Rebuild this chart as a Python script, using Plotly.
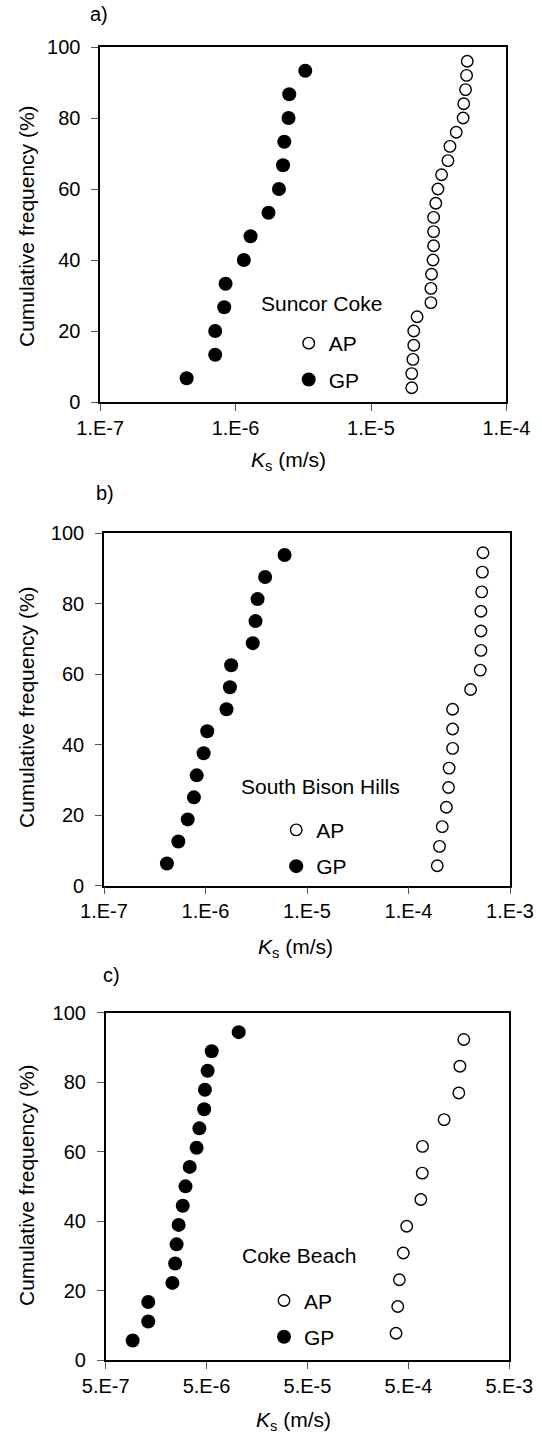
import math
import plotly.graph_objects as go

# ---------------- data ----------------
# a) Suncor Coke
suncor_gp_ks = [4.35e-7, 7.07e-7, 7.07e-7, 8.24e-7, 8.43e-7, 1.15e-6, 1.29e-6,
                1.75e-6, 2.09e-6, 2.24e-6, 2.29e-6, 2.46e-6, 2.49e-6, 3.27e-6]
suncor_gp_freq = [6.7, 13.3, 20.0, 26.7, 33.3, 40.0, 46.7, 53.3, 60.0, 66.7, 73.3, 80.0, 86.7, 93.3]
suncor_ap_ks = [2.00e-5, 2.00e-5, 2.04e-5, 2.07e-5, 2.07e-5, 2.19e-5, 2.77e-5, 2.77e-5,
                2.80e-5, 2.87e-5, 2.90e-5, 2.90e-5, 2.90e-5, 3.01e-5, 3.12e-5, 3.32e-5,
                3.70e-5, 3.83e-5, 4.26e-5, 4.79e-5, 4.84e-5, 4.99e-5, 5.08e-5, 5.14e-5]
suncor_ap_freq = [4, 8, 12, 16, 20, 24, 28, 32, 36, 40, 44, 48, 52, 56, 60, 64,
                  68, 72, 76, 80, 84, 88, 92, 96]

# b) South Bison Hills
bison_gp_ks = [4.17e-7, 5.40e-7, 6.68e-7, 7.69e-7, 8.19e-7, 9.58e-7, 1.04e-6, 1.61e-6,
               1.74e-6, 1.79e-6, 2.92e-6, 3.11e-6, 3.26e-6, 3.87e-6, 6.01e-6]
bison_gp_freq = [6.25, 12.5, 18.75, 25.0, 31.25, 37.5, 43.75, 50.0, 56.25, 62.5,
                 68.75, 75.0, 81.25, 87.5, 93.75]
bison_ap_ks = [1.92e-4, 2.02e-4, 2.15e-4, 2.36e-4, 2.48e-4, 2.51e-4, 2.72e-4, 2.72e-4,
               2.72e-4, 4.09e-4, 5.09e-4, 5.17e-4, 5.17e-4, 5.17e-4, 5.26e-4, 5.34e-4, 5.42e-4]
bison_ap_freq = [5.6, 11.1, 16.7, 22.2, 27.8, 33.3, 38.9, 44.4, 50.0, 55.6, 61.1,
                 66.7, 72.2, 77.8, 83.3, 88.9, 94.4]

# c) Coke Beach
beach_gp_ks = [9.25e-7, 1.32e-6, 1.32e-6, 2.29e-6, 2.44e-6, 2.52e-6, 2.64e-6, 2.90e-6,
               3.09e-6, 3.40e-6, 3.98e-6, 4.24e-6, 4.73e-6, 4.81e-6, 5.12e-6, 5.62e-6, 1.04e-5]
beach_gp_freq = [5.6, 11.1, 16.7, 22.2, 27.8, 33.3, 38.9, 44.4, 50.0, 55.6, 61.1,
                 66.7, 72.2, 77.8, 83.3, 88.9, 94.4]
beach_ap_ks = [3.77e-4, 3.92e-4, 4.07e-4, 4.45e-4, 4.81e-4, 6.64e-4, 6.86e-4, 6.90e-4,
               1.13e-3, 1.58e-3, 1.62e-3, 1.77e-3]
beach_ap_freq = [7.7, 15.4, 23.1, 30.8, 38.5, 46.2, 53.8, 61.5, 69.2, 76.9, 84.6, 92.3]

# tick labels
ticks_a = [1e-7, 1e-6, 1e-5, 1e-4]
ticktext_a = ["1.E-7", "1.E-6", "1.E-5", "1.E-4"]
ticks_b = [1e-7, 1e-6, 1e-5, 1e-4, 1e-3]
ticktext_b = ["1.E-7", "1.E-6", "1.E-5", "1.E-4", "1.E-3"]
ticks_c = [5e-7, 5e-6, 5e-5, 5e-4, 5e-3]
ticktext_c = ["5.E-7", "5.E-6", "5.E-5", "5.E-4", "5.E-3"]
freq_ticks = [0, 20, 40, 60, 80, 100]

site_names = ["Suncor Coke", "South Bison Hills", "Coke Beach"]
panel_labels = ["a)", "b)", "c)"]

# ---------------- layout helpers ----------------
W, H = 542, 1437
FONT = "Liberation Sans, Arial, Helvetica, sans-serif"


def px(x):
    return x / W


def py(y):
    return 1 - y / H


panels = [
    dict(ap=(suncor_ap_ks, suncor_ap_freq), gp=(suncor_gp_ks, suncor_gp_freq),
         tv=ticks_a, tt=ticktext_a, xd=(100.2, 506.4), yd=(47, 402),
         label=(98.5, 13.5), site=(321.5, 304), xtitle=(288, 461),
         ytitle_y=226, leg=(308.7, 340)),
    dict(ap=(bison_ap_ks, bison_ap_freq), gp=(bison_gp_ks, bison_gp_freq),
         tv=ticks_b, tt=ticktext_b, xd=(104, 510), yd=(533, 885.5),
         label=(104.6, 493), site=(320.8, 786.7), xtitle=(295.5, 948),
         ytitle_y=707, leg=(296.2, 826.7)),
    dict(ap=(beach_ap_ks, beach_ap_freq), gp=(beach_gp_ks, beach_gp_freq),
         tv=ticks_c, tt=ticktext_c, xd=(105.7, 509.3), yd=(1012.7, 1360),
         label=(111, 975), site=(299, 1255), xtitle=(293.8, 1421),
         ytitle_y=1185, leg=(284, 1297.3)),
]

fig = go.Figure()
layout = dict(
    width=W, height=H,
    margin=dict(l=0, r=0, t=0, b=0, pad=0, autoexpand=False),
    paper_bgcolor="white", plot_bgcolor="white",
    font=dict(family=FONT, size=20, color="black"),
    showlegend=True,
    annotations=[],
)

for i, p in enumerate(panels, start=1):
    sfx = "" if i == 1 else str(i)
    xref, yref = "x" + sfx, "y" + sfx
    legname = "legend" + sfx
    ap_ks, ap_f = p["ap"]
    gp_ks, gp_f = p["gp"]
    fig.add_trace(go.Scatter(
        x=ap_ks, y=ap_f, mode="markers", name="AP",
        xaxis=xref, yaxis=yref, legend=legname, legendgroup=f"ap{i}",
        marker=dict(symbol="circle", size=11.5, color="white",
                    line=dict(color="black", width=1.4)),
        cliponaxis=False,
    ))
    fig.add_trace(go.Scatter(
        x=gp_ks, y=gp_f, mode="markers", name="GP",
        xaxis=xref, yaxis=yref, legend=legname, legendgroup=f"gp{i}",
        marker=dict(symbol="circle", size=14, color="black",
                    line=dict(color="black", width=0)),
        cliponaxis=False,
    ))

    xr = [math.log10(p["tv"][0]), math.log10(p["tv"][-1])]
    layout["xaxis" + sfx] = dict(
        domain=[px(p["xd"][0]), px(p["xd"][1])], anchor=yref, type="log", range=xr,
        tickmode="array", tickvals=p["tv"], ticktext=p["tt"],
        ticks="outside", ticklen=7, tickwidth=1, tickcolor="#555",
        showline=True, linecolor="black", linewidth=1.6, mirror=True,
        showgrid=False, zeroline=False, automargin=False,
        tickfont=dict(size=20, family=FONT),
    )
    layout["yaxis" + sfx] = dict(
        domain=[py(p["yd"][1]), py(p["yd"][0])], anchor=xref, range=[0, 100],
        tickmode="array", tickvals=freq_ticks,
        ticks="outside", ticklen=7, tickwidth=1, tickcolor="#555",
        ticklabelstandoff=7,
        showline=True, linecolor="black", linewidth=1.6, mirror=True,
        showgrid=False, zeroline=False, automargin=False,
        tickfont=dict(size=20, family=FONT),
    )
    # overlay axis drawing the inner half of the crossing x ticks
    layout["xaxis" + str(i + 3)] = dict(
        domain=[px(p["xd"][0]), px(p["xd"][1])], anchor=yref, overlaying=xref,
        type="log", range=xr, tickmode="array", tickvals=p["tv"],
        ticks="inside", ticklen=7, tickwidth=1, tickcolor="#555",
        showticklabels=False, showline=False, showgrid=False, zeroline=False,
        automargin=False,
    )
    lx, ly = p["leg"]
    layout[legname] = dict(
        x=px(lx - 20), y=py(ly - 17), xanchor="left", yanchor="top",
        xref="paper", yref="paper",
        bgcolor="rgba(0,0,0,0)", borderwidth=0,
        font=dict(size=21, family=FONT), tracegroupgap=6,
        itemclick=False, itemdoubleclick=False,
    )
    layout["annotations"] += [
        dict(text=panel_labels[i - 1], x=px(p["label"][0]), y=py(p["label"][1]),
             xref="paper", yref="paper", showarrow=False, xanchor="center",
             yanchor="middle", font=dict(size=20, family=FONT)),
        dict(text=site_names[i - 1], x=px(p["site"][0]), y=py(p["site"][1]),
             xref="paper", yref="paper", showarrow=False, xanchor="center",
             yanchor="middle", font=dict(size=21, family=FONT)),
        dict(text="<i>K</i><sub>s</sub> (m/s)", x=px(p["xtitle"][0]),
             y=py(p["xtitle"][1]), xref="paper", yref="paper", showarrow=False,
             xanchor="center", yanchor="middle", font=dict(size=21, family=FONT)),
        dict(text="Cumulative frequency (%)", x=px(26), y=py(p["ytitle_y"]),
             xref="paper", yref="paper", showarrow=False, textangle=-90,
             xanchor="center", yanchor="middle", font=dict(size=21, family=FONT)),
    ]

fig.update_layout(**layout)
fig.write_html("out.html", config={"displayModeBar": False},
               post_script="document.body.style.margin='0';document.body.style.padding='0';")
